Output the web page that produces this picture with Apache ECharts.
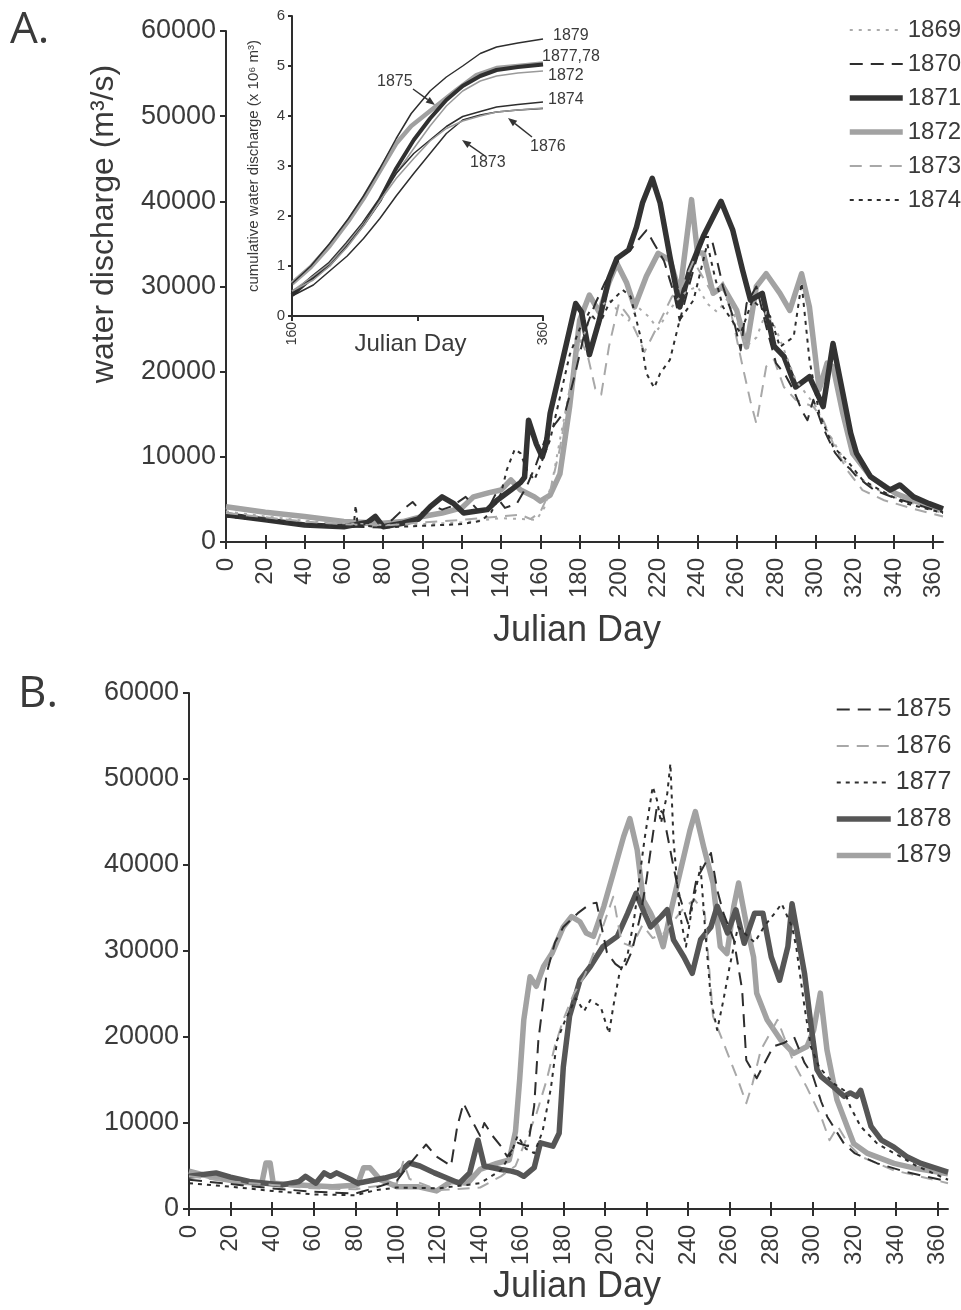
<!DOCTYPE html>
<html><head><meta charset="utf-8">
<script src="https://cdn.jsdelivr.net/npm/echarts@6/dist/echarts.min.js"></script>
<style>html,body{margin:0;padding:0;background:#fff}#c{width:961px;height:1310px}</style>
</head><body><div id="c"></div>
<script>
// ---------- tick labels ----------
const dayTicks = [0,20,40,60,80,100,120,140,160,180,200,220,240,260,280,300,320,340,360];
const insetDayLabels = [160,360];
const insetDayTicks = [160,260,360];

// ---------- Panel A: daily water discharge (m3/s), [Julian day, value] ----------
const A1869 = [[0,3600],[20,3000],[40,2500],[60,2200],[80,2000],[100,2100],[120,2300],[140,2800],[150,2700],[158,2600],[162,4000],[166,7000],[170,12000],[175,18000],[180,23000],[185,26000],[190,27500],[195,28500],[200,27000],[205,26000],[210,27500],[215,26500],[220,25000],[225,27000],[230,28500],[235,29500],[240,30000],[245,28000],[250,27000],[255,28500],[260,26000],[265,23000],[270,24000],[275,27000],[280,25000],[285,22000],[290,19000],[295,17500],[300,16000],[305,13500],[310,11500],[315,9500],[320,8000],[330,6300],[340,5300],[350,4500],[360,3700],[365,3400]];
const A1870 = [[0,3100],[20,2600],[40,2100],[60,1800],[80,1700],[85,2700],[90,3800],[95,4700],[100,3400],[105,4300],[110,3800],[115,4200],[122,5300],[128,3800],[133,3700],[137,5500],[142,4000],[148,4500],[153,6500],[158,9200],[163,12400],[168,14000],[173,15500],[178,20000],[183,25000],[188,28000],[193,30500],[197,32000],[201,33500],[206,34300],[210,35500],[214,36600],[218,35000],[223,33000],[228,29200],[231,26000],[235,29500],[238,32000],[243,35800],[247,35800],[250,33000],[253,30000],[258,26500],[262,22500],[265,28000],[270,30000],[275,25300],[280,21000],[285,19500],[289,17800],[293,15500],[296,14300],[299,16700],[303,14000],[306,12400],[310,10500],[313,9600],[318,8500],[321,7700],[326,6800],[330,6100],[340,5200],[350,4500],[360,3800],[365,3500]];
const A1871 = [[0,3200],[20,2600],[40,2000],[60,1800],[72,2300],[76,3000],[80,1800],[90,2200],[98,2700],[104,4150],[110,5300],[116,4500],[121,3400],[127,3600],[133,3800],[138,4900],[145,6100],[150,7000],[152,7600],[154,14300],[158,11500],[161,10000],[163,11500],[165,15100],[170,20000],[175,25000],[178,28000],[181,27000],[185,22000],[190,26000],[195,31000],[199,33300],[205,34300],[209,37000],[212,39800],[217,42700],[221,39800],[226,33500],[231,27600],[236,31900],[243,35900],[248,38200],[252,40000],[258,36600],[263,31900],[267,28400],[273,29200],[279,23000],[284,21800],[290,18200],[297,19400],[304,15900],[309,23300],[314,17500],[318,12800],[321,10400],[328,7700],[338,6100],[343,6700],[350,5300],[358,4500],[365,3900]];
const A1872 = [[0,4150],[20,3500],[40,3000],[60,2400],[80,2200],[90,2400],[100,3000],[110,3400],[120,4000],[126,5300],[134,5800],[140,6100],[145,7300],[150,6100],[157,5300],[160,4800],[165,5500],[170,8000],[175,16000],[180,26000],[185,29000],[190,27000],[195,30500],[199,32700],[204,30400],[208,27600],[214,31200],[220,33900],[226,33100],[231,29200],[237,40200],[240,34000],[243,33900],[248,29200],[253,30000],[260,27200],[265,22900],[270,30000],[275,31500],[282,29200],[287,27200],[293,31500],[297,27600],[302,17900],[306,21000],[309,20600],[314,15100],[319,10400],[328,7700],[341,5700],[352,4700],[365,3800]];
const A1873 = [[0,3400],[20,2900],[40,2400],[60,2100],[80,1900],[100,2300],[120,2600],[140,3000],[150,3200],[155,2700],[160,3500],[165,6000],[170,11000],[175,18000],[180,24000],[184,22000],[188,18000],[191,17300],[195,23000],[200,28000],[205,26500],[210,24000],[213,22300],[220,25500],[227,28800],[232,30000],[238,33000],[243,31000],[248,29000],[253,30500],[258,26000],[263,20600],[267,16500],[270,13900],[275,20600],[279,21400],[284,18200],[290,16700],[299,15900],[304,14300],[309,11600],[316,8500],[324,6100],[335,4900],[350,3900],[365,3000]];
const A1874 = [[0,3000],[20,2500],[40,2000],[60,1700],[65,1800],[66,4300],[67,2000],[80,1700],[100,1900],[120,2100],[130,2500],[135,3500],[140,5700],[143,8500],[147,10900],[150,10400],[153,8500],[157,7300],[160,9000],[165,12000],[170,17000],[175,22000],[180,25000],[185,27000],[190,25500],[195,28000],[202,29600],[206,28800],[211,24100],[214,19800],[218,18100],[221,19800],[226,21400],[231,26100],[238,28400],[245,35000],[249,31000],[253,27600],[262,24500],[268,28400],[277,26500],[282,22900],[289,24100],[293,30400],[297,21400],[302,15100],[309,11200],[316,9600],[324,7300],[333,6100],[345,4600],[365,3400]];

// ---------- Inset: cumulative water discharge (x 10^6 m3) ----------
const C1879 = [[160,0.65],[175,1.0],[190,1.45],[205,1.95],[217,2.4],[230,2.95],[243,3.55],[255,4.05],[270,4.5],[283,4.78],[296,5.0],[310,5.25],[323,5.38],[340,5.46],[360,5.54]];
const C1875 = [[160,0.65],[175,0.98],[190,1.4],[205,1.9],[217,2.35],[230,2.9],[243,3.45],[255,3.8],[265,4.0],[275,4.2],[291,4.52],[307,4.82],[323,4.96],[340,5.0],[360,5.05]];
const C1877 = [[160,0.42],[177,0.79],[190,1.05],[204,1.45],[217,1.85],[230,2.32],[243,2.95],[257,3.52],[270,3.95],[283,4.32],[296,4.6],[310,4.8],[323,4.92],[340,4.98],[360,5.03]];
const C1872 = [[160,0.5],[177,0.8],[190,1.05],[204,1.45],[217,1.85],[230,2.3],[243,2.85],[257,3.35],[270,3.8],[283,4.2],[296,4.5],[310,4.7],[323,4.8],[340,4.86],[360,4.9]];
const C1874 = [[160,0.45],[177,0.75],[190,1.0],[204,1.4],[217,1.82],[230,2.35],[243,2.85],[257,3.25],[270,3.52],[283,3.79],[296,3.99],[310,4.09],[323,4.18],[340,4.23],[360,4.28]];
const C1876 = [[160,0.4],[177,0.62],[190,0.9],[204,1.2],[217,1.55],[230,1.95],[243,2.4],[257,2.85],[270,3.25],[283,3.65],[296,3.92],[310,4.02],[323,4.08],[340,4.12],[360,4.15]];
const C1873 = [[160,0.5],[177,0.72],[190,1.0],[204,1.38],[217,1.8],[230,2.3],[243,2.75],[257,3.15],[270,3.5],[283,3.75],[296,3.9],[310,4.0],[323,4.08],[340,4.12],[360,4.16]];

// ---------- Panel B ----------
const B1875 = [[0,3400],[20,2900],[40,2400],[60,2000],[80,1800],[90,2500],[100,3300],[106,5200],[114,7500],[119,6100],[126,5000],[129,9600],[132,12300],[135,10800],[140,8500],[142,10000],[146,8500],[150,7300],[153,6100],[158,7700],[163,7300],[166,12000],[168,19600],[172,27400],[176,31000],[180,32800],[187,34400],[193,35500],[196,35600],[201,29800],[205,28500],[209,27800],[213,30000],[217,34000],[220,38300],[225,46800],[228,46000],[233,39800],[236,36300],[240,33200],[244,38300],[251,41400],[254,37100],[257,34400],[262,31300],[266,25500],[268,17300],[273,15200],[276,16600],[281,18900],[286,19300],[291,20000],[296,17000],[300,15500],[304,12500],[307,10700],[315,7600],[320,6500],[331,5300],[345,4300],[365,3200]];
const B1876 = [[0,3800],[20,3200],[40,2800],[60,2400],[80,2300],[100,3000],[103,5500],[106,3500],[120,2200],[140,2500],[150,3800],[157,5000],[162,8000],[167,11000],[172,15000],[176,19000],[180,22000],[185,25000],[190,27000],[195,30000],[200,33500],[204,36300],[208,31000],[213,30500],[218,33000],[223,31500],[228,32000],[233,33500],[238,35000],[243,36000],[248,34500],[252,22400],[259,18100],[264,15000],[268,12300],[271,14600],[275,18500],[283,22000],[291,16900],[297,14200],[304,10700],[308,8000],[312,9600],[317,7600],[323,6100],[339,4500],[365,3000]];
const B1877 = [[0,3000],[20,2600],[40,2100],[60,1700],[80,1600],[90,2200],[100,2500],[120,2400],[140,3000],[150,4500],[155,6500],[158,8500],[162,7000],[166,6500],[170,9000],[174,14000],[177,19600],[181,22000],[186,24500],[190,23000],[193,24300],[198,23500],[202,20400],[204,23500],[207,27400],[211,29700],[214,33600],[219,42900],[223,49100],[225,47600],[227,44900],[230,48300],[231.5,51800],[233,42900],[236,34400],[239,30500],[242,35200],[246,39800],[248,33200],[251,24300],[254,20800],[257,24300],[260,28200],[264,32800],[267,32100],[272,31000],[277,33000],[282,34500],[285,35500],[290,32800],[292,30500],[296,23500],[299,18900],[303,16500],[310,14600],[315,13800],[318,11900],[323,9600],[331,7600],[339,6500],[350,5000],[365,3400]];
const B1878 = [[0,3800],[13,4200],[20,3700],[29,3200],[45,2800],[53,3200],[56,3800],[61,3000],[65,4200],[68,3800],[71,4200],[78,3400],[81,3000],[94,3600],[100,4000],[106,5350],[111,5000],[118,4200],[124,3600],[130,3000],[135,4200],[139,8000],[142,5000],[150,4600],[155,4400],[158,4200],[161,3800],[166,4800],[169,7700],[175,7300],[178,8800],[180,16500],[183,22400],[188,26600],[193,28200],[199,30500],[206,31700],[211,34400],[215,36700],[219,34400],[222,32800],[227,34000],[230,34800],[233,31300],[238,29300],[242,27400],[246,31300],[251,32800],[254,35200],[259,32100],[263,34800],[267,30900],[272,34400],[276,34400],[280,29300],[284,26600],[288,30500],[290,35500],[292,32800],[296,27400],[299,21600],[302,16200],[304,15400],[310,14200],[315,13100],[318,13500],[321,13100],[323,13800],[328,9600],[333,8000],[339,7200],[345,6100],[352,5300],[365,4300]];
const B1879 = [[0,4400],[13,3600],[26,3100],[35,3000],[37,5350],[39,5350],[40.5,3000],[53,2800],[69,2600],[81,2800],[84,4800],[87,4800],[92,3400],[100,2600],[110,2600],[119,2100],[126,3200],[134,3000],[140,4600],[148,5300],[154,5700],[157,9000],[159,15000],[161,22000],[164,27000],[167,25900],[170.5,28200],[174.5,29700],[180,32800],[184,34000],[188,33400],[191,32100],[194.5,31700],[199.5,35200],[204,39000],[209,43300],[212,45400],[215.5,41800],[218.5,35900],[222,34400],[225,32800],[228,30500],[231.5,34400],[236,39000],[241,44100],[243.5,46200],[247.5,42100],[252,37900],[255.5,30500],[258.7,29700],[262,35200],[264.3,37900],[268.3,32800],[271.5,29300],[273,25100],[278,22000],[284.4,19700],[290.8,18100],[297.2,18900],[300.4,20800],[303.6,25100],[306.8,18500],[311.6,12700],[316.5,9600],[319.7,7600],[326,6500],[339,5300],[350,4700],[365,4100]];

// ---------- styles ----------
const DARK = '#2e2e2e', TEXT = '#3a3a3a';
const FONT = '"Liberation Sans", Arial, sans-serif';
const sty = {
  dotLight: {color:'#ababab', width:2, type:[3,6]},
  dashDark: {color:DARK, width:2, type:[13,8]},
  thickDark: {color:'#333333', width:5.5, type:'solid'},
  thickGray: {color:'#a2a2a2', width:5.5, type:'solid'},
  dashLight: {color:'#a8a8a8', width:2, type:[12,8]},
  dotDark: {color:DARK, width:2, type:[4,5]},
  thickMid: {color:'#565656', width:5.5, type:'solid'},
  thinDark: {color:DARK, width:1.5, type:'solid'},
  thinGray: {color:'#9a9a9a', width:1.5, type:'solid'},
  medDark: {color:'#303030', width:4, type:'solid'},
  medGray: {color:'#a0a0a0', width:4.5, type:'solid'}
};
function ser(name, data, xi, yi, s, z){
  return {type:'line', name, data, xAxisIndex:xi, yAxisIndex:yi, symbol:'none', showSymbol:false,
    lineStyle:{color:s.color, width:s.width, type:s.type, cap:'butt', join:'round'},
    itemStyle:{color:s.color}, z:z||2, silent:true, animation:false};
}
function mainX(grid, inside){
  return {type:'value', gridIndex:grid, min:0, max:365, position:'bottom',
    axisLine:{show:!inside, lineStyle:{color:DARK, width:2}},
    axisTick:{show:true, inside:!!inside, length:7, lineStyle:{color:DARK, width:2}, customValues:dayTicks},
    axisLabel:{show:!inside, rotate:90, margin:16, fontSize:24, color:TEXT, fontFamily:FONT, customValues:dayTicks},
    splitLine:{show:false}};
}
function mainY(grid){
  return {type:'value', gridIndex:grid, min:0, max:60000, interval:10000,
    axisLine:{show:true, lineStyle:{color:DARK, width:2}},
    axisTick:{show:true, length:6, lineStyle:{color:DARK, width:2}},
    axisLabel:{fontSize:27, color:TEXT, fontFamily:FONT, margin:10, formatter:v=>String(v)},
    splitLine:{show:false}};
}
function arrow(x1,y1,x2,y2){
  const a=Math.atan2(y2-y1,x2-x1), L=9, W=3.5;
  const bx=x2-L*Math.cos(a), by=y2-L*Math.sin(a);
  return [
    {type:'line', shape:{x1,y1,x2:bx,y2:by}, style:{stroke:'#333', lineWidth:1.5}, silent:true},
    {type:'polygon', shape:{points:[[x2,y2],[bx+W*Math.sin(a),by-W*Math.cos(a)],[bx-W*Math.sin(a),by+W*Math.cos(a)]]}, style:{fill:'#333'}, silent:true}
  ];
}
function txt(x,y,text,size,family){
  return {type:'text', x, y, silent:true,
    style:{text, fontSize:size, fontFamily:family||FONT, fill:TEXT, align:'left', verticalAlign:'middle'}};
}
const legendCommon = {orient:'vertical', selectedMode:false, itemHeight:14,
  itemStyle:{opacity:0, borderWidth:0}, lineStyle:{width:'inherit', type:'inherit', cap:'butt'}};

const chart = echarts.init(document.getElementById('c'), null, {renderer:'canvas'});
const option = {
  backgroundColor:'#fff',
  animation:false,
  grid:[
    {left:226, top:31, width:717, height:511},
    {left:292, top:16, width:251, height:300},
    {left:189, top:693, width:759, height:516}
  ],
  xAxis:[
    mainX(0,false), mainX(0,true),
    {type:'value', gridIndex:1, min:160, max:360,
      axisLine:{lineStyle:{color:DARK, width:2}},
      axisTick:{length:5, lineStyle:{color:DARK, width:2}, customValues:insetDayTicks},
      axisLabel:{rotate:90, fontSize:14, color:TEXT, fontFamily:FONT, margin:6, customValues:insetDayLabels},
      splitLine:{show:false},
      name:'Julian Day', nameLocation:'middle', nameGap:16, nameMoveOverlap:false,
      nameTextStyle:{fontSize:24, color:TEXT, fontFamily:FONT, padding:[0,14,0,0]}},
    mainX(2,false), mainX(2,true)
  ],
  yAxis:[
    mainY(0),
    {type:'value', gridIndex:1, min:0, max:6, interval:1,
      axisLine:{show:true, lineStyle:{color:DARK, width:2}},
      axisTick:{show:true, length:4, lineStyle:{color:DARK, width:2}},
      axisLabel:{fontSize:15, color:TEXT, fontFamily:FONT, margin:7},
      splitLine:{show:false},
      name:'cumulative water discharge (x 10⁶ m³)', nameLocation:'middle', nameGap:31, nameRotate:90, nameMoveOverlap:false,
      nameTextStyle:{fontSize:15, color:TEXT, fontFamily:FONT}},
    mainY(2)
  ],
  legend:[
    Object.assign({}, legendCommon, {data:['1869','1870','1871','1872','1873','1874'], left:842, top:13,
      itemWidth:53, itemGap:10,
      textStyle:{fontSize:24, color:TEXT, fontFamily:FONT, lineHeight:24}}),
    Object.assign({}, legendCommon, {data:['1875','1876','1877','1878','1879'], left:829, top:692,
      itemWidth:54, itemGap:11.5,
      textStyle:{fontSize:25, color:TEXT, fontFamily:FONT, lineHeight:24}})
  ],
  series:[
    ser('1869', A1869, 0, 0, sty.dotLight, 3),
    ser('1870', A1870, 0, 0, sty.dashDark, 4),
    ser('1871', A1871, 0, 0, sty.thickDark, 2),
    ser('1872', A1872, 0, 0, sty.thickGray, 1),
    ser('1873', A1873, 0, 0, sty.dashLight, 3),
    ser('1874', A1874, 0, 0, sty.dotDark, 4),

    ser('cum 1879', C1879, 2, 1, sty.thinDark, 4),
    ser('cum 1875', C1875, 2, 1, sty.medGray, 2),
    ser('cum 1877', C1877, 2, 1, sty.medDark, 3),
    ser('cum 1872', C1872, 2, 1, sty.thinGray, 4),
    ser('cum 1874', C1874, 2, 1, sty.thinDark, 4),
    ser('cum 1876', C1876, 2, 1, sty.thinDark, 4),
    ser('cum 1873', C1873, 2, 1, sty.thinGray, 4),

    ser('1875', B1875, 3, 2, sty.dashDark, 4),
    ser('1876', B1876, 3, 2, sty.dashLight, 3),
    ser('1877', B1877, 3, 2, sty.dotDark, 4),
    ser('1878', B1878, 3, 2, sty.thickMid, 2),
    ser('1879', B1879, 3, 2, sty.thickGray, 1)
  ],
  graphic:[].concat(
    [
      txt(10, 30, 'A.', 44, '"Open Sans", sans-serif'),
      txt(18, 694, 'B.', 44, '"Open Sans", sans-serif'),
      {type:'text', x:577, y:631, silent:true, style:{text:'Julian Day', fontSize:36, fontFamily:FONT, fill:TEXT, align:'center', verticalAlign:'middle'}},
      {type:'text', x:577, y:1287, silent:true, style:{text:'Julian Day', fontSize:36, fontFamily:FONT, fill:TEXT, align:'center', verticalAlign:'middle'}},
      {type:'text', x:104, y:224, rotation:Math.PI/2, silent:true, style:{text:'water discharge (m³/s)', fontSize:32, fontFamily:FONT, fill:TEXT, align:'center', verticalAlign:'middle'}},
      txt(553, 36, '1879', 16),
      txt(542, 57, '1877,78', 16),
      txt(548, 76, '1872', 16),
      txt(548, 100, '1874', 16),
      txt(530, 147, '1876', 16),
      txt(470, 163, '1873', 16),
      txt(377, 82, '1875', 16)
    ],
    arrow(413,89,435,105),
    arrow(532,137,508,118),
    arrow(485,156,462,140)
  )
};
chart.setOption(option);
</script>
</body></html>
